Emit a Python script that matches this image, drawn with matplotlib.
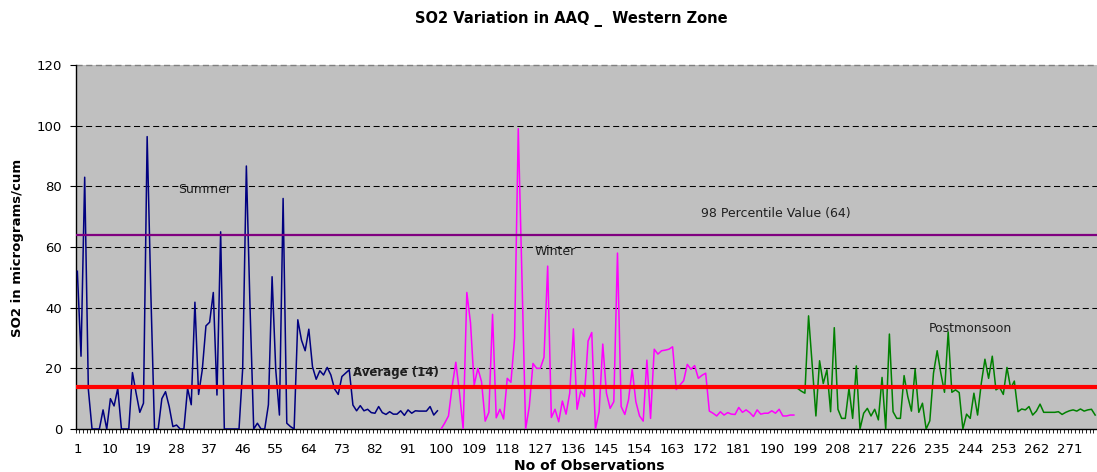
import matplotlib
matplotlib.use("Agg")
import matplotlib.pyplot as plt
import numpy as np

plt.rcParams['font.family'] = ['DejaVu Sans']

# ---- data ----
summer = [52, 24, 83, 13, 0, 0, 0, 6.3, 0, 10,
          7.6, 13.4, 0, 0, 0, 18.6, 11.8, 5.5, 8.5, 96.4,
          45, 0, 0, 10, 12.3, 7.4, 0.8, 1.3, 0, 0,
          13.4, 8, 41.8, 11.4, 19.5, 34, 35.2, 45, 11.2, 65,
          0, 0, 0, 0, 0, 20, 86.7, 40, 0, 1.9,
          0, 0, 8, 50.2, 19.5, 4.6, 76, 1.9, 0.8, 0,
          36, 29.3, 25.8, 32.9, 20.5, 16.4, 19.2, 17.8, 20.3, 17.8,
          13.2, 11.4, 17.3, 18.4, 19.5, 7.9, 6, 7.7, 6, 6.5,
          5.4, 5.2, 7.4, 5.4, 4.8, 5.7, 4.9, 4.9, 6, 4.5,
          6.3, 5.2, 6, 5.9, 5.9, 5.9, 7.4, 4.6, 6]
winter = [0, 2, 4.3, 14, 22, 12, 0, 45, 35, 14.5,
          20, 15.6, 2.6, 5.5, 37.8, 3.7, 6.5, 3.3, 16.7, 15.4,
          30, 99, 50, 0, 7.4, 21.6, 20, 20, 23.6, 53.7,
          3.8, 6.5, 2.4, 9.2, 4.9, 11.8, 33, 6.5, 12.5, 10.7,
          29, 31.8, 0, 5.7, 28, 11.8, 6.8, 9, 58,
          7.4, 4.8, 9.6, 19.7, 9, 4.3, 2.6, 22.7, 3.5, 26.3,
          24.7, 25.8, 26, 26.3, 27.1, 13, 14.5, 15.9, 21.3, 19.7,
          20.9, 16.7, 17.7, 18.4, 5.9, 5.2, 4.3, 5.7, 4.6, 5.4,
          4.9, 4.8, 7.1, 5.5, 6.3, 5.4, 4.1, 6.3, 4.9, 5.2,
          5.2, 6, 5.2, 6.5, 4.3, 4.3, 4.6, 4.6]
postmonsoon = [13.4, 12.5, 11.8, 37.3, 21, 4.3, 22.5, 15, 19.5, 5.7,
               33.4, 6.5, 3.5, 3.5, 13.4, 3.5, 20.8, 0, 5.2, 6.8,
               4.3, 6.5, 3, 17, 0, 31.3, 5.7, 3.5, 3.5, 17.6,
               10.7, 5.9, 19.7, 5.5, 8.5, 0, 2.7, 18.4, 25.8, 18.4,
               12.1, 32, 12.1, 12.9, 12, 0, 4.9, 3.5, 11.8, 4.6,
               15, 23, 16.7, 24, 12.9, 13.7, 11.4, 20.3, 13.4, 15.8,
               5.7, 6.6, 6.3, 7.4, 4.6, 5.9, 8.2, 5.5, 5.5, 5.5,
               5.5, 5.7, 4.8, 5.5, 6, 6.3, 5.9, 6.6, 5.9, 6.3, 6.5, 4.6]
average_value = 14
percentile98_value = 64
tick_labels = list(range(1, 272, 9))

# ---- figure ----
W, H = 1097, 472
fig = plt.figure(figsize=(W / 100, H / 100), dpi=100)
ax_left, ax_right, ax_top, ax_bot = 75.5, 1097, 65, 429
ax = fig.add_axes([ax_left / W, 1 - ax_bot / H, (ax_right - ax_left) / W, (ax_bot - ax_top) / H])
ax.set_facecolor('#C0C0C0')

n_s, n_w, n_p = len(summer), len(winter), len(postmonsoon)
x_s = np.arange(1, n_s + 1)
x_w = np.arange(n_s + 1, n_s + n_w + 1)
x_p = np.arange(n_s + n_w + 1, n_s + n_w + n_p + 1)
n_total = n_s + n_w + n_p

# gridlines
for yv in range(20, 101, 20):
    ax.axhline(yv, color='black', lw=0.75, linestyle=(0, (5.8, 3.4)), zorder=1)
ax.axhline(120, color='#808080', lw=1.0, linestyle=(0, (4.4, 2.6)), zorder=1, clip_on=False)

ax.plot(x_s, summer, color='#000080', lw=1.1, zorder=3)
ax.plot(x_w, winter, color='#FF00FF', lw=1.1, zorder=3)
ax.plot(x_p, postmonsoon, color='#008000', lw=1.1, zorder=3)

ax.axhline(percentile98_value, color='#800080', lw=1.6, zorder=4)
ax.axhline(average_value, color='#FF0000', lw=3.0, zorder=4)

ax.set_xlim(0.5, 0.5 + (ax_right - ax_left) / 3.68)
ax.set_ylim(0, 120)

ax.set_yticks(range(0, 121, 20))
ax.tick_params(axis='y', length=4.5, width=0.8, labelsize=9.5, pad=5)
ax.set_xticks(tick_labels)
ax.set_xticklabels([str(t) for t in tick_labels])
ax.tick_params(axis='x', which='major', length=0, labelsize=9.5, pad=10)
ax.set_xticks(np.arange(0.5, n_total + 1.5, 1.0), minor=True)
ax.tick_params(axis='x', which='minor', length=3, width=0.6, direction='out')

for s in ['top', 'right']:
    ax.spines[s].set_visible(False)
ax.spines['left'].set_linewidth(1.0)
ax.spines['bottom'].set_linewidth(1.0)

# annotations
ax.text(35.7, 79, 'Summer', fontsize=9, ha='center', va='center', color='#202020', zorder=5)
ax.text(131, 58.4, 'Winter', fontsize=9, ha='center', va='center', color='#202020', zorder=5)
ax.text(191, 70.9, '98 Percentile Value (64)', fontsize=9, ha='center', va='center', color='#202020', zorder=5)
ax.text(87.8, 18.6, 'Average (14)', fontsize=8.5, fontweight='bold', ha='center', va='center', color='#202020', zorder=5)
ax.text(244, 33, 'Postmonsoon', fontsize=9, ha='center', va='center', color='#202020', zorder=5)

fig.text(571 / W, 1 - 19 / H, 'SO2 Variation in AAQ _  Western Zone', fontsize=10.5, fontweight='bold',
         ha='center', va='center')
fig.text(589 / W, 1 - 466 / H, 'No of Observations', fontsize=10, fontweight='bold', ha='center', va='center')
fig.text(18 / W, 1 - 248 / H, 'SO2 in micrograms/cum', fontsize=9.5, fontweight='bold', ha='center', va='center',
         rotation=90)

fig.savefig('out.png', dpi=100)
